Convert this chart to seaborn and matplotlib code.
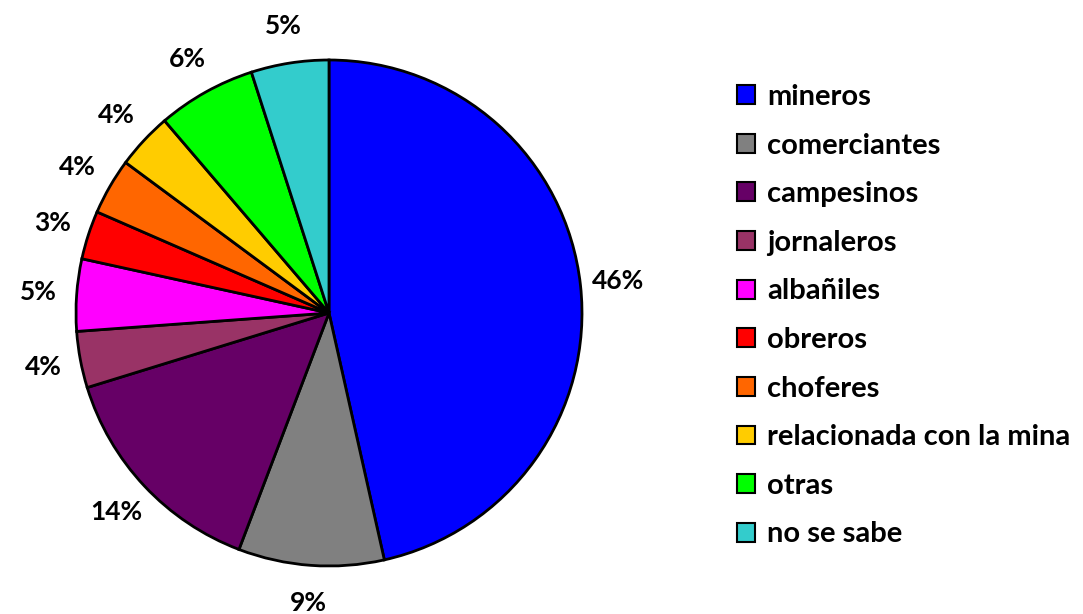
import matplotlib
matplotlib.use("Agg")
import matplotlib.pyplot as plt
import matplotlib.patches as mpatches
import seaborn as sns

categories = ["mineros", "comerciantes", "campesinos", "jornaleros", "albañiles",
              "obreros", "choferes", "relacionada con la mina", "otras", "no se sabe"]
values = [46.49, 9.3, 14.45, 3.6, 4.6, 3.1, 3.6, 3.6, 6.3, 4.96]
colors = ["#0000FF", "#808080", "#660066", "#993366", "#FF00FF",
          "#FF0000", "#FF6600", "#FFCC00", "#00FF00", "#33CCCC"]

sns.set_theme(style="white")
plt.rcParams["font.family"] = ["Lato", "DejaVu Sans"]
plt.rcParams["text.color"] = "black"

fig = plt.figure(figsize=(10.83, 6.14), dpi=100)
ax = fig.add_axes([76 / 1083, 48 / 614, 506 / 1083, 506 / 614])

wedges, texts, autotexts = ax.pie(
    values, colors=colors, startangle=90, counterclock=False,
    autopct="%.0f%%", pctdistance=1.15, radius=1,
    wedgeprops=dict(edgecolor="black", linewidth=2),
    textprops=dict(fontsize=19, fontweight="bold", color="black"),
)
ax.set_xlim(-1, 1)
ax.set_ylim(-1, 1)
ax.set_aspect("equal")
ax.axis("off")

handles = [mpatches.Patch(facecolor=c, edgecolor="black", linewidth=1.5) for c in colors]
leg = fig.legend(handles, categories, loc="upper left", bbox_to_anchor=(737 / 1083, 1 - 84 / 614),
                 frameon=False, prop=dict(size=21, weight="bold"),
                 handlelength=0.62, handleheight=0.62, handletextpad=0.41,
                 labelspacing=0.775, borderaxespad=0, borderpad=0, labelcolor="black")

fig.savefig("out.png", dpi=100)
